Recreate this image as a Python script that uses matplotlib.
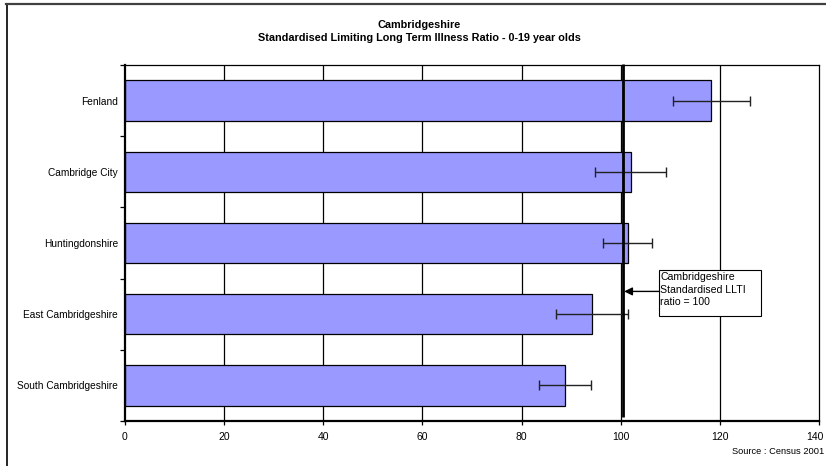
import matplotlib
matplotlib.use("Agg")
import matplotlib.pyplot as plt
from matplotlib.lines import Line2D
from matplotlib.patches import Rectangle
import matplotlib.transforms as mtransforms
import numpy as np

plt.rcParams['font.family'] = ['Liberation Sans', 'DejaVu Sans']

# ---- data ----
districts = ["Fenland", "Cambridge City", "Huntingdonshire",
             "East Cambridgeshire", "South Cambridgeshire"]
sllti = [118.3, 102.0, 101.5, 94.3, 88.8]
ci_low = [110.6, 94.9, 96.4, 86.9, 83.6]
ci_high = [126.0, 109.1, 106.3, 101.5, 94.1]
ref_line_x = 100.4
x_ticks = [0, 20, 40, 60, 80, 100, 120, 140]
title_lines = ["Cambridgeshire",
               "Standardised Limiting Long Term Illness Ratio - 0-19 year olds"]
annot_text = "Cambridgeshire\nStandardised LLTI\nratio = 100"
source_text = "Source : Census 2001"

W, H = 826, 466
fig = plt.figure(figsize=(W / 100, H / 100), dpi=100)
ax = fig.add_axes([125 / W, 1 - 421 / H, (819 - 125) / W, (421 - 65) / H])

y = np.arange(len(districts))
vals = np.array(sllti)
err = [vals - np.array(ci_low), np.array(ci_high) - vals]

ax.set_xlim(0, 140)
ax.set_ylim(len(districts) - 0.5, -0.5)

for xv in x_ticks[1:-1]:
    ax.axvline(xv, color='black', lw=0.9, zorder=1)

ax.barh(y, vals, height=0.57, color='#9999FF', edgecolor='black',
        linewidth=0.9, zorder=2)
ax.errorbar(vals, y, xerr=err, fmt='none', ecolor='#222222', elinewidth=1.0,
            capsize=3.5, capthick=1.0, zorder=4)

ax.plot([ref_line_x, ref_line_x], [len(districts) - 0.55, -0.52],
        color='black', lw=2.0, zorder=5, clip_on=False, solid_capstyle='butt')

# axes styling
for s in ['top', 'right']:
    ax.spines[s].set_linewidth(0.9)
for s in ['left', 'bottom']:
    ax.spines[s].set_linewidth(1.6)
ax.set_xticks(x_ticks)
ax.set_xticklabels([str(t) for t in x_ticks], fontsize=7.5)
ax.tick_params(axis='x', direction='out', length=3, width=0.9, pad=5)
# keep the last tick label inside the figure
last_lbl = ax.get_xticklabels()[-1]
last_lbl.set_transform(last_lbl.get_transform() +
                       mtransforms.ScaledTranslation(-4 / 100, 0, fig.dpi_scale_trans))

ax.set_yticks(np.arange(len(districts) + 1) - 0.5)
ax.set_yticklabels([])
ax.tick_params(axis='y', which='major', direction='out', length=3.5, width=0.9)
ax.set_yticks(y, minor=True)
ax.set_yticklabels(districts, minor=True, fontsize=7.3)
ax.tick_params(axis='y', which='minor', length=0, pad=5)

# annotation box
bx0, bx1 = 107.7, 128.3
by0, by1 = 2.38, 3.02
ax.add_patch(Rectangle((bx0, by0), bx1 - bx0, by1 - by0, facecolor='white',
                       edgecolor='black', lw=0.8, zorder=6))
ax.text(bx0 + 0.3, by0 + 0.03, annot_text, fontsize=7.6, va='top', ha='left',
        linespacing=1.3, zorder=7)
ax.annotate("", xy=(ref_line_x + 0.3, 2.68), xytext=(bx0, 2.68),
            arrowprops=dict(arrowstyle='-|>', color='black', lw=1.0,
                            mutation_scale=12, shrinkA=0, shrinkB=0), zorder=7)

# titles
fig.text(419 / W, 1 - 25 / H, title_lines[0], fontsize=7.8, fontweight='bold',
         ha='center', va='center')
fig.text(419 / W, 1 - 38 / H, title_lines[1], fontsize=7.8, fontweight='bold',
         ha='center', va='center')
fig.text(824 / W, 1 - 451 / H, source_text, fontsize=6.7, ha='right', va='center')

# chart-area border (left & top visible)
fig.add_artist(Line2D([6.5 / W, 6.5 / W], [0, 1 - 3.5 / H], transform=fig.transFigure,
                      color='black', lw=1.2))
fig.add_artist(Line2D([6 / W, 1], [1 - 3.5 / H, 1 - 3.5 / H], transform=fig.transFigure,
                      color='#404040', lw=1.6))

fig.savefig("out.png", dpi=100)
